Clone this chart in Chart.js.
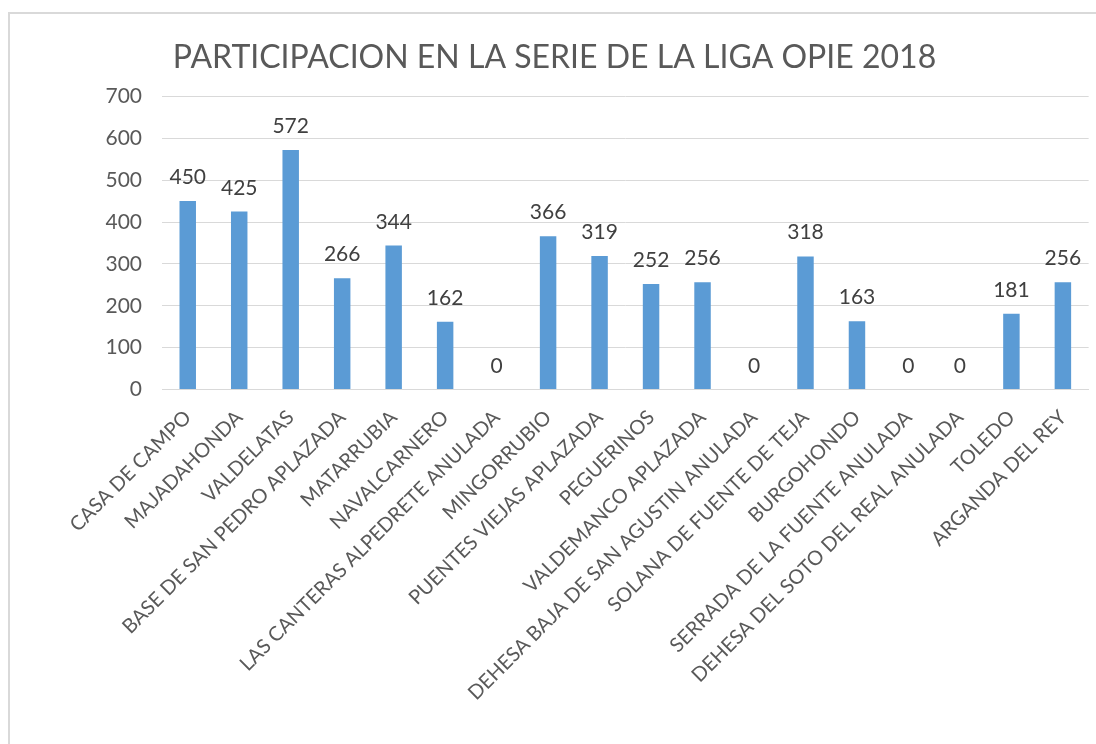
<!DOCTYPE html>
<html><head><meta charset="utf-8">
<script src="https://cdn.jsdelivr.net/npm/chart.js@4/dist/chart.umd.min.js"></script>
<style>
html,body{margin:0;padding:0;background:#fff;overflow:hidden;width:1096px;height:744px;}
#frame{position:absolute;left:8px;top:12px;width:1200px;height:900px;border:2px solid #d9d9d9;box-sizing:border-box;}
#c{position:absolute;left:0;top:0;}
</style></head><body>
<div id="frame"></div>
<canvas id="c" width="1096" height="744"></canvas>
<script>
const titleText = "PARTICIPACION EN LA SERIE DE LA LIGA OPIE 2018";
const categories = [
  "CASA DE CAMPO","MAJADAHONDA","VALDELATAS","BASE DE SAN PEDRO APLAZADA",
  "MATARRUBIA","NAVALCARNERO","LAS CANTERAS ALPEDRETE ANULADA","MINGORRUBIO",
  "PUENTES VIEJAS APLAZADA","PEGUERINOS","VALDEMANCO APLAZADA",
  "DEHESA BAJA DE SAN AGUSTIN ANULADA","SOLANA DE FUENTE DE TEJA","BURGOHONDO",
  "SERRADA DE LA FUENTE ANULADA","DEHESA DEL SOTO DEL REAL ANULADA","TOLEDO","ARGANDA DEL REY"
];
const values = [450,425,572,266,344,162,0,366,319,252,256,0,318,163,0,0,181,256];
const yTickMin = 0, yTickMax = 700, yTickStep = 100;

const FONT = "Lato, 'Open Sans', sans-serif";

const valueLabels = {
  id: 'valueLabels',
  afterDatasetsDraw(chart) {
    const ctx = chart.ctx;
    const meta = chart.getDatasetMeta(0);
    ctx.save();
    ctx.font = "21px " + FONT;
    ctx.fillStyle = '#404040';
    ctx.textAlign = 'center';
    ctx.textBaseline = 'alphabetic';
    meta.data.forEach((bar, i) => {
      ctx.fillText(String(values[i]), bar.x, bar.y - 17);
    });
    ctx.restore();
  }
};

new Chart(document.getElementById('c'), {
  type: 'bar',
  data: {
    labels: categories,
    datasets: [{
      data: values,
      backgroundColor: '#5B9BD5',
      borderWidth: 0,
      barPercentage: 0.32,
      categoryPercentage: 1.0
    }]
  },
  options: {
    responsive: false,
    devicePixelRatio: 1,
    animation: false,
    layout: { padding: { left: 18, right: 5, top: 0, bottom: 0 } },
    plugins: {
      legend: { display: false },
      tooltip: { enabled: false },
      title: {
        display: true,
        text: titleText,
        color: '#595959',
        font: { family: FONT, size: 32, weight: 'normal' },
        padding: { top: 38, bottom: 20 }
      }
    },
    scales: {
      x: {
        grid: { display: false, drawTicks: false },
        border: { display: true, color: '#d9d9d9', width: 1 },
        ticks: {
          autoSkip: false, maxRotation: 45, minRotation: 45,
          color: '#595959', padding: 16,
          font: { family: FONT, size: 20 }
        },
        afterFit(scale) { scale.height = 744 - 389.6; }
      },
      y: {
        min: yTickMin, max: yTickMax,
        grid: { color: '#d9d9d9', drawTicks: false },
        border: { display: false },
        ticks: {
          stepSize: yTickStep, color: '#595959', padding: 20,
          font: { family: FONT, size: 21 }
        },
        afterFit(scale) { scale.width = 144; }
      }
    }
  },
  plugins: [valueLabels]
});
</script>
</body></html>
